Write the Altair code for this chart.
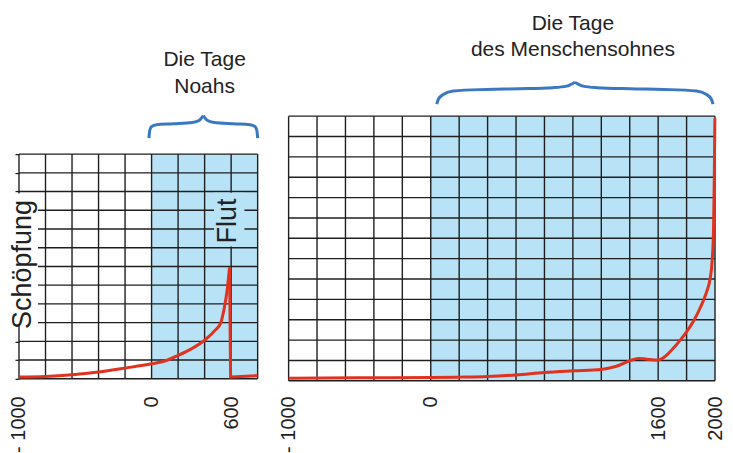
import altair as alt
import pandas as pd

FONT = "Liberation Sans"
GRID = "#1f1f1f"
BLUE_BG = "#b8e2f6"
RED = "#e0321f"
BRACE = "#3a78c2"
TEXT = "#222222"

# ---------------- data ----------------
# left panel: "Die Tage Noahs"
left_curve_x = [-1000, -800, -600, -400, -200, 0, 100, 200, 300, 400, 480, 520, 550, 570, 588]
left_curve_y = [0.09, 0.12, 0.21, 0.36, 0.57, 0.8, 0.95, 1.25, 1.6, 2.06, 2.6, 2.96, 3.85, 4.75, 5.95]
flood_x = [588, 596, 600, 800]
flood_y = [5.95, 0.1, 0.1, 0.17]
left_grid_x = [-1000, -800, -600, -400, -200, 0, 200, 400, 600, 800]
left_grid_y = [0, 1, 2, 3, 4, 5, 6, 7, 8, 9, 10, 11, 12]
left_ticks = [-1000, 0, 600]

# right panel: "Die Tage des Menschensohnes"
right_curve_x = [-1000, -500, 0, 200, 400, 600, 800, 1000, 1200, 1300, 1400, 1460, 1520, 1600,
                 1650, 1700, 1750, 1800, 1850, 1900, 1940, 1965, 1980, 1990, 1995, 1999]
right_curve_y = [0.13, 0.15, 0.16, 0.18, 0.21, 0.29, 0.41, 0.49, 0.56, 0.7, 0.98, 1.1, 1.06, 1.02,
                 1.2, 1.55, 1.95, 2.4, 2.95, 3.65, 4.35, 5.0, 5.9, 7.6, 10.0, 12.9]
right_grid_x = [-1000, -800, -600, -400, -200, 0, 200, 400, 600, 800, 1000, 1200, 1400, 1600, 1800, 2000]
right_grid_y = [0, 1, 2, 3, 4, 5, 6, 7, 8, 9, 10, 11, 12, 13]
right_ticks = [-1000, 0, 1600, 2000]

# brace outline (fraction along half-width, fraction of height)
left_brace_u = [0, 0.015, 0.05, 0.14, 0.45, 0.8, 0.93, 1.0]
left_brace_v = [0, 0.35, 0.52, 0.6, 0.64, 0.7, 0.8, 1.0]
right_brace_u = [0, 0.012, 0.05, 0.12, 0.36, 0.6, 0.84, 0.94, 1.0]
right_brace_v = [0, 0.22, 0.45, 0.6, 0.67, 0.7, 0.75, 0.82, 1.0]


def brace_df(x0, x1, yb, yt, us, vs):
    half = (x1 - x0) / 2.0
    rows = []
    for i, (u, v) in enumerate(zip(us, vs)):
        rows.append({"bx": x0 + u * half, "by": yb + v * (yt - yb), "half": "a", "o": i})
        rows.append({"bx": x1 - u * half, "by": yb + v * (yt - yb), "half": "b", "o": i})
    return pd.DataFrame(rows)


def panel(xdom, ydom, yrange, width, grid_x, grid_y, ticks, curve, flood, yaxis,
          brace, titles, notes, masks):
    xs = alt.Scale(domain=xdom, nice=False, zero=False)
    ys = alt.Scale(domain=ydom, nice=False, zero=False, range=yrange)
    xaxis = alt.Axis(values=ticks, title=None, grid=False, ticks=False, domain=False,
                     labelAngle=270, labelFontSize=20, labelFont=FONT, labelColor=TEXT,
                     labelPadding=15, labelFlush=False, labelOverlap=False,
                     labelExpr="datum.value == -1000 ? '- 1000' : datum.value + ''")

    def X(f):
        return alt.X(f, type="quantitative", scale=xs, axis=xaxis)

    def Y(f):
        return alt.Y(f, type="quantitative", scale=ys, axis=yaxis)

    shade = alt.Chart(pd.DataFrame({"x": [0], "x2": [xdom[1]], "y": [ydom[0]], "y2": [ydom[1]]})).mark_rect(
        color=BLUE_BG).encode(x=X("x"), x2="x2", y=Y("y"), y2="y2")

    vgrid = alt.Chart(pd.DataFrame({"gx": grid_x, "y0": ydom[0], "y1": ydom[1]})).mark_rule(
        color=GRID, strokeWidth=1.4).encode(x=X("gx"), y=Y("y0"), y2="y1")
    hgrid = alt.Chart(pd.DataFrame({"gy": grid_y, "x0": xdom[0], "x1": xdom[1]})).mark_rule(
        color=GRID, strokeWidth=1.4).encode(y=Y("gy"), x=X("x0"), x2="x1")

    layers = [shade, vgrid, hgrid]

    if masks is not None:
        layers.append(alt.Chart(masks).mark_rect().encode(
            x=X("mx0"), x2="mx1", y=Y("my0"), y2="my1",
            fill=alt.Fill("mfill:N", scale=None)))
    if notes is not None:
        layers.append(alt.Chart(notes).mark_text(
            angle=270, fontSize=27, font=FONT, color=TEXT, align="center", baseline="middle").encode(
            x=X("nx"), y=Y("ny"), text="nt:N"))

    cdf = pd.DataFrame({"cx": curve[0], "cy": curve[1], "o": list(range(len(curve[0])))})
    layers.append(alt.Chart(cdf).mark_line(color=RED, strokeWidth=3, interpolate="monotone").encode(
        x=X("cx"), y=Y("cy"), order="o:Q"))
    if flood is not None:
        fdf = pd.DataFrame({"cx": flood[0], "cy": flood[1], "o": list(range(len(flood[0])))})
        layers.append(alt.Chart(fdf).mark_line(color=RED, strokeWidth=3).encode(
            x=X("cx"), y=Y("cy"), order="o:Q"))

    layers.append(alt.Chart(brace).mark_line(color=BRACE, strokeWidth=3, interpolate="monotone").encode(
        x=X("bx"), y=Y("by"), detail="half:N", order="o:Q"))

    layers.append(alt.Chart(titles).mark_text(
        fontSize=21, font=FONT, color=TEXT, align="center", baseline="alphabetic").encode(
        x=X("tx"), y=Y("ty"), text="tt:N"))

    return alt.layer(*layers).properties(width=width, height=265)


left_yaxis = alt.Axis(values=left_grid_y, title=None, labels=False, domain=False, grid=False,
                      ticks=True, tickSize=4, tickColor=GRID, tickWidth=1.3)

left = panel(
    xdom=[-1000, 800], ydom=[0, 12], yrange=[263, 38], width=239,
    grid_x=left_grid_x, grid_y=left_grid_y, ticks=left_ticks,
    curve=(left_curve_x, left_curve_y), flood=(flood_x, flood_y), yaxis=left_yaxis,
    brace=brace_df(-20, 800, 12.85, 14.05, left_brace_u, left_brace_v),
    titles=pd.DataFrame({"tx": [400, 400], "ty": [16.69, 15.27], "tt": ["Die Tage", "Noahs"]}),
    notes=pd.DataFrame({"nx": [-973, 578], "ny": [6.1, 8.43], "nt": ["Schöpfung", "Flut"]}),
    masks=pd.DataFrame({"mx0": [-1065, 471], "mx1": [-857, 700], "my0": [2.85, 7.06],
                        "my1": [9.9, 9.94], "mfill": ["white", BLUE_BG]}),
)

right = panel(
    xdom=[-1000, 2000], ydom=[0, 13], yrange=[265, 0], width=427,
    grid_x=right_grid_x, grid_y=right_grid_y, ticks=right_ticks,
    curve=(right_curve_x, right_curve_y), flood=None, yaxis=None,
    brace=brace_df(42, 1986, 13.59, 14.67, right_brace_u, right_brace_v),
    titles=pd.DataFrame({"tx": [1000, 1000], "ty": [17.25, 15.97],
                         "tt": ["Die Tage", "des Menschensohnes"]}),
    notes=None, masks=None,
)

chart = alt.hconcat(left, right, spacing=31, bounds="flush").properties(
    padding={"left": 0, "top": 4, "right": 0, "bottom": 0}
).configure_view(strokeWidth=0)

chart.save("out.html", embed_options={"renderer": "svg", "actions": False})
